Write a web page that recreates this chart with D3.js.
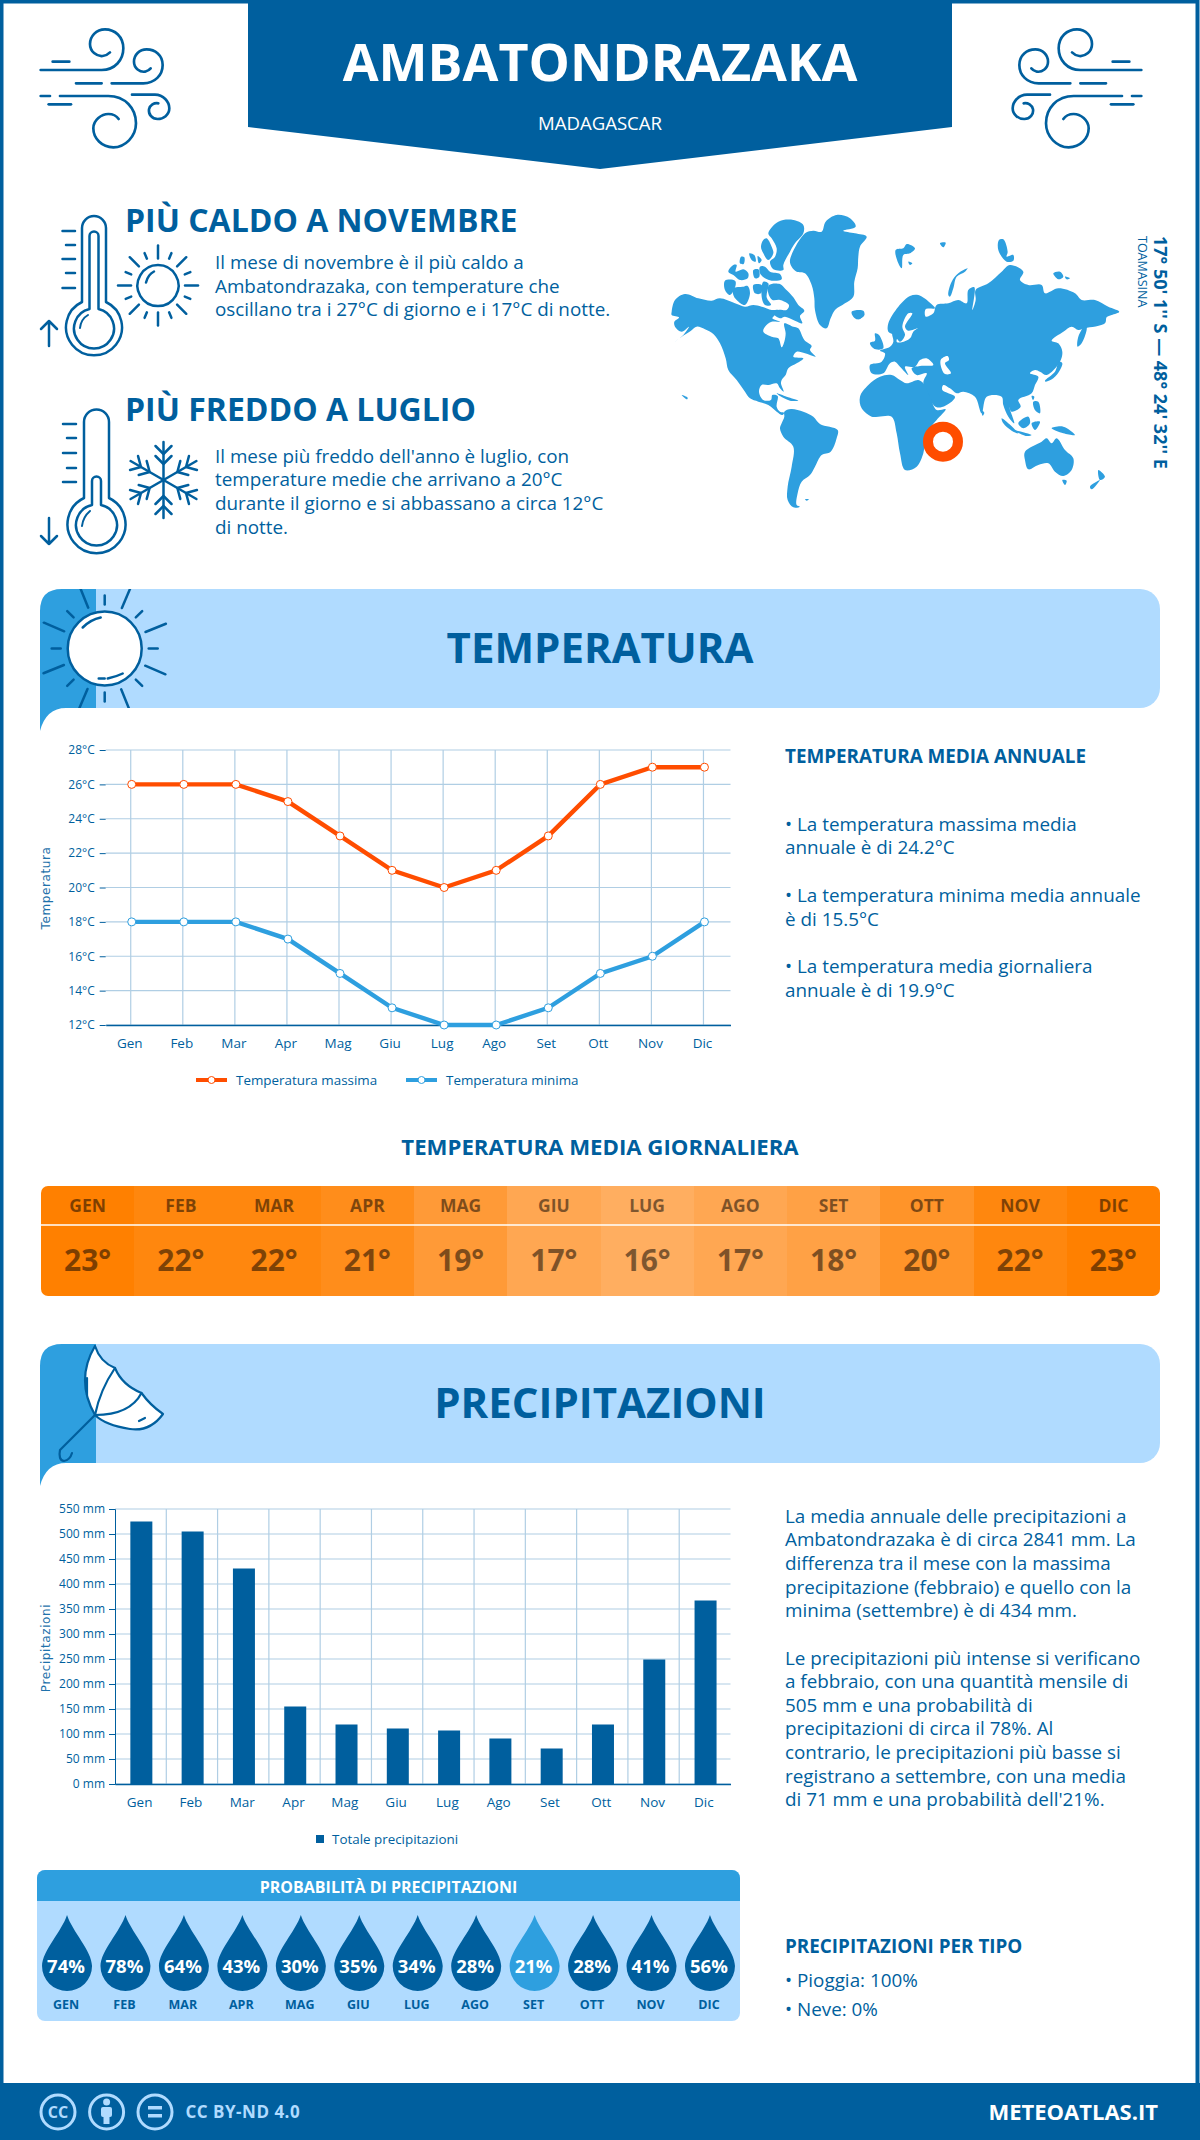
<!DOCTYPE html>
<html lang="it">
<head>
    <meta charset="UTF-8">
    <title>Ambatondrazaka</title>
    <script src="https://d3js.org/d3.v7.min.js"></script>
    <style>
        body { margin: 0; background: #fff; }
        svg { display: block; }
        text { font-family: "Open Sans", sans-serif; }
    </style>
</head>
<body>
<svg width="1200" height="2140"></svg>
<script>

    // dati
    var months = ["Gen", "Feb", "Mar", "Apr", "Mag", "Giu", "Lug", "Ago", "Set", "Ott", "Nov", "Dic"];
    var monthsUpper = ["GEN", "FEB", "MAR", "APR", "MAG", "GIU", "LUG", "AGO", "SET", "OTT", "NOV", "DIC"];
    var tempMax = [26, 26, 26, 25, 23, 21, 20, 21, 23, 26, 27, 27];
    var tempMin = [18, 18, 18, 17, 15, 13, 12, 12, 13, 15, 16, 18];
    var tempMean = [23, 22, 22, 21, 19, 17, 16, 17, 18, 20, 22, 23];
    var precip = [525, 505, 431, 155, 119, 111, 107, 91, 71, 119, 249, 367];
    var precipProb = [74, 78, 64, 43, 30, 35, 34, 28, 21, 28, 41, 56];

    var hotLines = ["Il mese di novembre è il più caldo a", "Ambatondrazaka, con temperature che", "oscillano tra i 27°C di giorno e i 17°C di notte."];
    var coldLines = ["Il mese più freddo dell'anno è luglio, con", "temperature medie che arrivano a 20°C", "durante il giorno e si abbassano a circa 12°C", "di notte."];
    var tempLines = ["• La temperatura massima media", "annuale è di 24.2°C", "• La temperatura minima media annuale", "è di 15.5°C", "• La temperatura media giornaliera", "annuale è di 19.9°C"];
    var rainLines = ["La media annuale delle precipitazioni a", "Ambatondrazaka è di circa 2841 mm. La", "differenza tra il mese con la massima", "precipitazione (febbraio) e quello con la", "minima (settembre) è di 434 mm.", "", "Le precipitazioni più intense si verificano", "a febbraio, con una quantità mensile di", "505 mm e una probabilità di", "precipitazioni di circa il 78%. Al", "contrario, le precipitazioni più basse si", "registrano a settembre, con una media", "di 71 mm e una probabilità dell'21%."];

    // sagome della mappa, ricalcate: americhe
    var landWest = [
        [[20,305],[30,270],[60,252],[100,265],[140,272],[165,265],[210,280],[240,290],[265,285],[290,290],[320,300],[340,300],[330,315],[322,325],[345,335],[320,335],[300,350],[295,365],[320,380],[340,385],[350,412],[358,395],[362,370],[358,340],[385,350],[400,355],[418,390],[440,408],[435,420],[452,440],[435,435],[420,430],[395,425],[385,440],[415,445],[395,460],[370,475],[362,495],[350,510],[348,520],[356,545],[345,535],[335,520],[310,525],[290,525],[282,545],[295,570],[318,570],[322,555],[338,558],[335,590],[345,605],[358,608],[352,615],[335,605],[310,585],[280,575],[255,565],[240,545],[215,510],[190,480],[182,445],[165,400],[145,372],[120,358],[95,350],[78,362],[50,380],[30,395],[55,375],[72,350],[50,365],[30,350],[28,335],[42,322],[20,315]],
        [[312,225],[345,222],[362,238],[385,262],[400,285],[418,302],[405,318],[412,340],[385,330],[360,320],[345,325],[325,310],[340,300],[365,300],[372,285],[345,270],[322,270],[310,250]],
        [[310,70],[340,35],[385,30],[415,45],[415,70],[390,100],[375,125],[355,165],[355,180],[325,178],[315,155],[330,140],[335,115],[320,85]],
        [[295,90],[305,85],[320,110],[325,130],[310,150],[295,130],[288,110]],
        [[285,170],[300,170],[315,185],[345,192],[350,208],[320,212],[300,205],[285,190]],
        [[265,180],[280,178],[283,200],[270,205]],
        [[190,185],[205,165],[215,165],[212,185],[235,178],[250,190],[248,205],[225,210],[205,195]],
        [[253,130],[268,135],[272,155],[260,150]],
        [[278,138],[290,150],[282,160]],
        [[228,140],[238,142],[236,162],[225,160]],
        [[205,235],[235,230],[248,228],[255,250],[240,285],[215,270],[205,255]],
        [[180,212],[210,212],[212,225],[195,255],[180,240]],
        [[265,225],[290,225],[288,250],[270,250]],
        [[295,215],[310,220],[305,262],[318,285],[300,285],[290,260]],
        [[375,150],[420,70],[445,62],[470,65],[482,35],[515,15],[555,25],[572,50],[535,62],[570,70],[605,80],[585,110],[580,140],[578,175],[568,215],[565,260],[540,280],[510,300],[497,325],[485,355],[465,345],[450,300],[448,265],[440,225],[420,190],[395,185],[380,170]],
        [[560,305],[595,302],[598,315],[578,328],[565,320]],
        [[335,550],[365,560],[400,572],[375,572],[345,558]],
        [[50,555],[68,563],[66,568]],
        [[358,605],[378,597],[415,605],[445,620],[465,642],[518,660],[515,685],[497,725],[470,735],[450,770],[435,795],[410,815],[398,850],[395,885],[405,890],[385,892],[368,870],[368,830],[380,770],[385,710],[355,680],[345,655],[350,640],[358,620]],
        [[420,868],[432,868],[425,872]]
    ];
    // sagome della mappa: Eurasia, Africa, Oceania
    var landEast = [
        [[122,90],[145,85],[155,72],[180,85],[165,100],[145,105],[140,145],[130,130]],
        [[160,125],[172,130],[165,135]],
        [[255,70],[272,68],[265,82]],
        [[280,225],[290,185],[310,160],[338,145],[330,155],[305,170],[295,205],[285,230]],
        [[432,60],[445,58],[458,95],[455,110],[475,105],[475,122],[455,125],[430,90]],
        [[595,160],[615,155],[625,170],[610,178]],
        [[630,170],[645,175],[635,178]],
        [[45,435],[80,425],[90,400],[75,392],[105,380],[115,365],[112,340],[128,345],[125,365],[140,367],[165,355],[175,335],[188,325],[160,332],[150,320],[172,280],[160,280],[142,320],[150,345],[135,365],[118,345],[100,335],[100,310],[130,260],[165,228],[190,225],[225,248],[240,265],[212,268],[212,290],[235,280],[245,255],[280,250],[310,240],[335,250],[340,210],[358,202],[352,270],[362,240],[362,210],[400,190],[440,155],[465,135],[505,155],[495,180],[520,195],[560,195],[570,220],[610,205],[660,220],[680,240],[720,240],[760,260],[793,275],[770,285],[755,292],[750,310],[690,325],[670,330],[650,320],[625,335],[590,362],[610,370],[622,395],[615,425],[575,465],[555,455],[540,450],[525,460],[550,470],[540,495],[530,520],[490,540],[497,560],[470,575],[462,560],[478,610],[460,590],[445,555],[440,530],[395,530],[380,580],[360,530],[325,515],[305,520],[285,505],[265,495],[262,510],[300,530],[290,545],[245,562],[205,490],[215,460],[185,465],[170,445],[195,438],[235,435],[215,415],[195,420],[180,440],[150,440],[160,465],[135,440],[120,425],[105,430],[85,460],[50,460]],
        [[15,530],[40,495],[75,470],[110,465],[135,480],[155,490],[190,480],[205,490],[225,530],[245,570],[272,568],[245,600],[225,625],[210,660],[205,700],[185,740],[150,750],[135,700],[125,640],[110,590],[70,590],[50,590],[20,565]],
        [[60,340],[72,345],[85,385],[62,388],[50,380],[45,368],[60,362]],
        [[0,285],[18,272],[28,285],[10,298]],
        [[380,572],[388,578],[383,587]],
        [[570,482],[600,455],[612,425],[622,430],[615,450],[595,475],[572,485]],
        [[668,380],[670,350],[695,310],[695,330],[680,370]],
        [[530,528],[538,530],[534,540]],
        [[535,545],[550,545],[555,580],[540,570]],
        [[440,595],[490,640],[470,632],[445,610]],
        [[475,630],[530,645],[515,648]],
        [[490,610],[520,590],[525,610],[505,625]],
        [[530,610],[555,605],[540,630]],
        [[590,625],[625,620],[660,645],[625,640]],
        [[510,695],[560,665],[575,655],[590,670],[605,655],[630,690],[655,715],[650,750],[625,768],[600,755],[580,730],[550,735],[520,748],[510,720]],
        [[622,780],[635,782],[630,795]],
        [[730,750],[750,770],[735,780]],
        [[735,780],[710,808],[705,800]]
    ];
    var seasEast = [
        [[258,418],[278,408],[282,420],[270,430],[288,460],[270,462],[258,440]]
    ];
    var marker = [264, 665];

    var dark = "#005f9e", mid = "#2e9fdf", light = "#b0dbff", orange = "#ff4d00", gridColor = "#b0cee4";

    var svg = d3.select("svg");

    function txt(x, y, s, size, weight, anchor, fill) {
        return svg.append("text")
            .attr("x", x).attr("y", y)
            .attr("font-size", size)
            .attr("font-weight", weight || 400)
            .attr("text-anchor", anchor || "start")
            .attr("fill", fill || dark)
            .text(s);
    }

    function icon(d, g, w, fill) {
        return (g || svg).append("path").attr("d", d)
            .attr("fill", fill || "none")
            .attr("stroke", dark)
            .attr("stroke-width", w || 2.5)
            .attr("stroke-linecap", "round")
            .attr("stroke-linejoin", "round");
    }

    // cornice e testata
    svg.append("rect").attr("x", 1.5).attr("y", 1.5).attr("width", 1196).attr("height", 2120)
        .attr("fill", "#fff").attr("stroke", dark).attr("stroke-width", 4);
    svg.append("path").attr("d", "M248 0H952V127L600 169L248 127Z").attr("fill", dark);
    txt(600, 81, "AMBATONDRAZAKA", 52, 700, "middle", "#fff");
    txt(600, 130, "MADAGASCAR", 18.6, 400, "middle", "#fff");

    var windPaths = [
        "M32 150H215C255 150 280 120 280 85C280 50 255 28 225 28C198 28 180 50 180 72C180 95 200 110 218 108C228 107 235 102 240 97",
        "M68 125H118",
        "M138 190H215M245 190H340C375 190 398 165 398 135C398 105 375 88 350 88C328 88 312 105 312 125C312 145 330 157 345 155C352 153 358 150 362 145",
        "M32 228H60M90 228H235C285 228 318 265 318 310C318 350 285 382 250 382C215 382 190 355 190 325C190 300 215 282 235 282C250 282 260 288 266 297",
        "M56 253H123",
        "M306 224H375C400 224 418 245 418 265C418 285 400 297 383 297C365 297 355 282 357 268C360 255 372 248 385 250"
    ];
    var windL = svg.append("g").attr("transform", "translate(30,20) scale(0.3333)");
    var windR = svg.append("g").attr("transform", "translate(1152,20) scale(-0.3333,0.3333)");
    windPaths.forEach(function(d) {
        icon(d, windL, 8);
        icon(d, windR, 8);
    });

    // blocco piu caldo
    txt(125, 232, "PIÙ CALDO A NOVEMBRE", 32, 700);
    hotLines.forEach(function(s, i) { txt(215, 269 + i * 23.6, s, 18.85); });
    icon("M82 302V228a12 12 0 0 1 24 0V302A28 28 0 1 1 82 302Z");
    icon("M89.5 309V236a4.5 4.5 0 0 1 9 0V309A20 20 0 1 1 89.5 309Z");
    icon("M80 328Q81 319 88 315", null, 2);
    [231, 245, 259, 273, 288].forEach(function(y, i) {
        icon("M" + (i % 2 ? 66 : 62.5) + " " + y + "H75");
    });
    icon("M49 346V321M41 329L49 321L57 329");

    var sun = svg.append("g").attr("transform", "translate(158,285.5)");
    icon("M0 -20.5A20.5 20.5 0 1 1 -0.01 -20.5Z", sun);
    icon("M-12 -3Q-10 -11 -4 -14", sun);
    d3.range(16).forEach(function(i) {
        var long = i % 2 === 0;
        var r1 = long ? 27 : 29, r2 = long ? 40 : 35;
        icon("M0 " + (-r1) + "V" + (-r2), sun).attr("transform", "rotate(" + (i * 22.5) + ")");
    });

    // blocco piu freddo
    txt(125, 421, "PIÙ FREDDO A LUGLIO", 32, 700);
    coldLines.forEach(function(s, i) { txt(215, 462.5 + i * 23.8, s, 18.85); });
    icon("M84 498V422a12.5 12.5 0 0 1 25 0V498A29 29 0 1 1 84 498Z");
    icon("M92 505V481a4.5 4.5 0 0 1 9 0V505A20.5 20.5 0 1 1 92 505Z");
    icon("M82 526Q83 517 90 511", null, 2);
    [424, 438, 453, 468, 482].forEach(function(y, i) {
        icon("M" + (i % 2 ? 67 : 63) + " " + y + "H76");
    });
    icon("M49 518V544M41 536L49 544L57 536");

    var flake = svg.append("g").attr("transform", "translate(163.5,480)");
    d3.range(6).forEach(function(i) {
        var a = flake.append("g").attr("transform", "rotate(" + (i * 60) + ")");
        icon("M0 0V-38", a);
        icon("M-8 -34L0 -26L8 -34M-8 -24L0 -16L8 -24", a);
    });

    svg.append("text").attr("transform", "translate(1154,236) rotate(90)")
        .attr("font-size", 18).attr("font-weight", 700).attr("fill", dark)
        .text("17° 50' 1'' S — 48° 24' 32'' E");
    svg.append("text").attr("transform", "translate(1138,236) rotate(90)")
        .attr("font-size", 12.5).attr("fill", dark).text("TOAMASINA");

    // fasce di sezione
    function band(y, title) {
        var h = 119;
        svg.append("path")
            .attr("d", "M96 " + y + "H1140a20 20 0 0 1 20 20V" + (y + h - 20) + "a20 20 0 0 1 -20 20H96Z")
            .attr("fill", light);
        svg.append("path")
            .attr("d", "M40 " + (y + h + 23) + "V" + (y + 22) + "Q40 " + y + " 62 " + y + "H96V" + (y + h) + "H66Q46 " + (y + h) + " 40 " + (y + h + 23) + "Z")
            .attr("fill", mid);
        txt(600, y + 74, title, 42, 700, "middle");
    }
    band(589, "TEMPERATURA");
    band(1344, "PRECIPITAZIONI");

    // sole della fascia temperatura
    var clipSun = svg.append("clipPath").attr("id", "clipSun");
    clipSun.append("rect").attr("x", 40).attr("y", 589).attr("width", 160).attr("height", 119);
    var bigSun = svg.append("g").attr("clip-path", "url(#clipSun)")
        .append("g").attr("transform", "translate(104.7,648.5)");
    d3.range(8).forEach(function(i) {
        icon("M0 -44V-66", bigSun).attr("transform", "rotate(" + (-22 + i * 45) + ")");
        icon("M0 -44V-53", bigSun).attr("transform", "rotate(" + (i * 45) + ")");
    });
    bigSun.append("circle").attr("r", 37).attr("fill", "#fff").attr("stroke", dark).attr("stroke-width", 2.5);
    icon("M-22 -21Q-14 -29 -4 -31", bigSun);
    icon("M-6 30L0 30M3 30Q12 28 18 25", bigSun);

    // ombrello della fascia precipitazioni
    icon("M95 1415L60 1450Q58 1460 64 1461Q70 1460 72 1453", null, 2.2);
    icon("M95 1346Q100 1362 115 1368Q122 1385 141.5 1393Q150 1405 163 1414Q150 1432 130 1429Q105 1425 95 1415Q75 1380 95 1346Z", null, 2.2, "#fff");
    icon("M115 1368Q100 1390 95 1415M141.5 1393Q130 1415 95 1415", null, 2.2);
    icon("M87 1378V1395M139 1421L145 1418", null, 2.2);

    // grafico temperature
    var tx = d3.scaleBand().domain(months).range([105.7, 730.5]);
    var ty = d3.scaleLinear().domain([12, 28]).range([1025, 750]);
    var tMid = function(m) { return tx(m) + tx.bandwidth() / 2; };

    var tGrid = svg.append("g").attr("stroke", gridColor).attr("stroke-width", 1.2);
    tGrid.selectAll("line.h").data(ty.ticks(8)).enter().append("line")
        .attr("x1", 105.7).attr("x2", 730.5)
        .attr("y1", function(d) { return ty(d); }).attr("y2", function(d) { return ty(d); });
    tGrid.selectAll("line.v").data(months).enter().append("line")
        .attr("x1", function(d) { return tMid(d) - 1; }).attr("x2", function(d) { return tMid(d) - 1; })
        .attr("y1", 750).attr("y2", 1025);

    function styleAxis(g, size) {
        g.selectAll("text").attr("fill", dark).attr("font-size", size).attr("font-family", '"Open Sans", sans-serif');
        g.selectAll("line").attr("stroke", dark);
        g.selectAll(".domain").attr("stroke", dark);
    }

    var tLeft = svg.append("g").attr("transform", "translate(105.7,0)")
        .call(d3.axisLeft(ty).ticks(8).tickSize(6).tickPadding(5).tickFormat(function(d) { return d + "°C"; }));
    tLeft.select(".domain").remove();
    styleAxis(tLeft, 12);
    var tBottom = svg.append("g").attr("transform", "translate(0,1025)")
        .call(d3.axisBottom(tx).tickSize(0).tickPadding(13));
    styleAxis(tBottom, 13.5);
    tBottom.selectAll("text").attr("dx", -2);
    tBottom.select(".domain").attr("stroke-width", 1.5);

    svg.append("text").attr("transform", "translate(50,888) rotate(-90)")
        .attr("text-anchor", "middle").attr("font-size", 12).attr("letter-spacing", 0.6)
        .attr("fill", "#1f72ab").style("font-family", '"DejaVu Sans"').text("Temperatura");

    var tLine = d3.line()
        .x(function(d, i) { return tMid(months[i]); })
        .y(function(d) { return ty(d); });

    function tempSeries(values, color) {
        svg.append("path").datum(values).attr("d", tLine)
            .attr("fill", "none").attr("stroke", color).attr("stroke-width", 4.4);
        svg.append("g").selectAll("circle").data(values).enter().append("circle")
            .attr("cx", function(d, i) { return tMid(months[i]); })
            .attr("cy", function(d) { return ty(d); })
            .attr("r", 4).attr("fill", "#fff").attr("stroke", color).attr("stroke-width", 1);
    }
    tempSeries(tempMax, orange);
    tempSeries(tempMin, mid);

    // legenda temperature
    [[196, "Temperatura massima", orange], [406, "Temperatura minima", mid]].forEach(function(d) {
        svg.append("line").attr("x1", d[0]).attr("x2", d[0] + 31).attr("y1", 1080).attr("y2", 1080)
            .attr("stroke", d[2]).attr("stroke-width", 4);
        svg.append("circle").attr("cx", d[0] + 15.5).attr("cy", 1080).attr("r", 3.5)
            .attr("fill", "#fff").attr("stroke", d[2]);
        txt(d[0] + 40, 1084.5, d[1], 13.4);
    });

    // testo a destra
    txt(785, 763, "TEMPERATURA MEDIA ANNUALE", 18.85, 700);
    var tempY = [831, 854, 902, 926, 973, 997];
    tempLines.forEach(function(s, i) { txt(785, tempY[i], s, 18.85); });

    // temperatura media giornaliera
    txt(600, 1155, "TEMPERATURA MEDIA GIORNALIERA", 22.2, 700, "middle");

    var dx = d3.scaleBand().domain(monthsUpper).range([41, 1160]);
    var heat = d3.scaleLinear().domain([16, 23]).range(["#ffae60", "#ff8000"]);
    var clipDay = svg.append("clipPath").attr("id", "clipDay");
    clipDay.append("rect").attr("x", 41).attr("y", 1186).attr("width", 1119).attr("height", 110).attr("rx", 7);
    var dayG = svg.append("g").attr("clip-path", "url(#clipDay)");
    dayG.selectAll("rect").data(tempMean).enter().append("rect")
        .attr("x", function(d, i) { return dx(monthsUpper[i]); })
        .attr("y", 1186).attr("width", dx.bandwidth() + 0.5).attr("height", 110)
        .attr("shape-rendering", "crispEdges")
        .attr("fill", function(d) { return heat(d); });
    dayG.append("line").attr("x1", 41).attr("x2", 1160).attr("y1", 1225).attr("y2", 1225)
        .attr("stroke", "#fff").attr("stroke-width", 1.5);
    tempMean.forEach(function(d, i) {
        var cx = dx(monthsUpper[i]) + dx.bandwidth() / 2;
        txt(cx, 1212, monthsUpper[i], 17.5, 700, "middle", "#000").attr("opacity", 0.5);
        txt(cx, 1271, d + "°", 30, 700, "middle", "#000").attr("opacity", 0.5);
    });

    // grafico precipitazioni
    var px = d3.scaleBand().domain(months).range([115, 730.5]);
    var py = d3.scaleLinear().domain([0, 550]).range([1784, 1509]);

    var pGrid = svg.append("g").attr("stroke", gridColor).attr("stroke-width", 1.2);
    pGrid.selectAll("line.h").data(py.ticks(11)).enter().append("line")
        .attr("x1", 115).attr("x2", 730.5)
        .attr("y1", function(d) { return py(d); }).attr("y2", function(d) { return py(d); });
    pGrid.selectAll("line.v").data(months.slice(1)).enter().append("line")
        .attr("x1", function(d) { return px(d); }).attr("x2", function(d) { return px(d); })
        .attr("y1", 1509).attr("y2", 1784);

    svg.append("g").selectAll("rect").data(precip).enter().append("rect")
        .attr("x", function(d, i) { return px(months[i]) + px.bandwidth() / 2 - 10.3; })
        .attr("y", function(d) { return py(d); })
        .attr("width", 22)
        .attr("height", function(d) { return py(0) - py(d); })
        .attr("fill", dark);

    var pLeft = svg.append("g").attr("transform", "translate(115,0)")
        .call(d3.axisLeft(py).ticks(11).tickSize(6).tickPadding(4).tickFormat(function(d) { return d + " mm"; }));
    pLeft.select(".domain").attr("stroke-width", 1);
    styleAxis(pLeft, 12);
    var pBottom = svg.append("g").attr("transform", "translate(0,1784)")
        .call(d3.axisBottom(px).tickSize(0).tickPadding(13));
    styleAxis(pBottom, 13.5);
    pBottom.selectAll("text").attr("dx", -1);
    pBottom.select(".domain").attr("stroke-width", 1.5);

    svg.append("text").attr("transform", "translate(50,1648) rotate(-90)")
        .attr("text-anchor", "middle").attr("font-size", 12).attr("letter-spacing", 0.6)
        .attr("fill", "#1f72ab").style("font-family", '"DejaVu Sans"').text("Precipitazioni");

    svg.append("rect").attr("x", 316).attr("y", 1835).attr("width", 8).attr("height", 8).attr("fill", dark);
    txt(332, 1843.5, "Totale precipitazioni", 13.4);

    rainLines.forEach(function(s, i) {
        txt(785, 1522.7 + i * 23.6 + (i > 5 ? 0.3 : 0), s, 18.85);
    });

    txt(785, 1953, "PRECIPITAZIONI PER TIPO", 18.85, 700);
    txt(785, 1987, "• Pioggia: 100%", 18.85);
    txt(785, 2016, "• Neve: 0%", 18.85);

    // probabilita di precipitazioni
    svg.append("rect").attr("x", 37).attr("y", 1870).attr("width", 703).attr("height", 151).attr("rx", 8).attr("fill", light);
    svg.append("path").attr("d", "M37 1901V1878a8 8 0 0 1 8 -8H732a8 8 0 0 1 8 8V1901Z").attr("fill", mid);
    txt(388.5, 1893, "PROBABILITÀ DI PRECIPITAZIONI", 16, 700, "middle", "#fff");

    var rx = d3.scaleBand().domain(monthsUpper).range([37.8, 739.2]);
    var drop = "M0 -51C5 -35 25 -15 25 0A25 25 0 1 1 -25 0C-25 -15 -5 -35 0 -51Z";
    precipProb.forEach(function(d, i) {
        var cx = rx(monthsUpper[i]) + rx.bandwidth() / 2;
        svg.append("path").attr("d", drop)
            .attr("transform", "translate(" + cx + ",1966)")
            .attr("fill", d === d3.min(precipProb) ? mid : dark);
        txt(cx - 1, 1973, d + "%", 18.5, 700, "middle", "#fff");
        txt(cx - 1, 2009, monthsUpper[i], 12.5, 700, "middle");
    });

    // pie di pagina
    svg.append("rect").attr("x", 0).attr("y", 2083).attr("width", 1200).attr("height", 57).attr("fill", dark);
    [58, 106.6, 155].forEach(function(cx) {
        svg.append("circle").attr("cx", cx).attr("cy", 2112).attr("r", 17)
            .attr("fill", "none").attr("stroke", light).attr("stroke-width", 3);
    });
    txt(58, 2118, "CC", 16, 700, "middle", light);
    svg.append("circle").attr("cx", 106.6).attr("cy", 2102).attr("r", 3.5).attr("fill", light);
    svg.append("rect").attr("x", 101).attr("y", 2107).attr("width", 11).attr("height", 10).attr("rx", 2).attr("fill", light);
    svg.append("rect").attr("x", 103.5).attr("y", 2115).attr("width", 6).attr("height", 9).attr("fill", light);
    svg.append("rect").attr("x", 148).attr("y", 2106).attr("width", 14).attr("height", 3.5).attr("fill", light);
    svg.append("rect").attr("x", 148).attr("y", 2114).attr("width", 14).attr("height", 3.5).attr("fill", light);
    txt(185.5, 2118, "CC BY-ND 4.0", 17, 700, "start", light).attr("letter-spacing", 0.5);
    txt(1158, 2120, "METEOATLAS.IT", 22, 700, "end", "#fff");

    // mappa, disegnata per ultima
    var ring = d3.line().curve(d3.curveCatmullRomClosed.alpha(0.5));
    var mapWest = svg.append("g").attr("transform", "translate(665,210) scale(0.3333)");
    var mapEast = svg.append("g").attr("transform", "translate(855,220) scale(0.3333)");
    mapWest.selectAll("path").data(landWest).enter().append("path")
        .attr("d", ring).attr("fill", mid);
    mapEast.selectAll("path.land").data(landEast).enter().append("path")
        .attr("class", "land").attr("d", ring).attr("fill", mid);
    mapEast.selectAll("path.sea").data(seasEast).enter().append("path")
        .attr("class", "sea").attr("d", ring).attr("fill", "#fff");
    mapEast.append("circle")
        .attr("cx", marker[0]).attr("cy", marker[1])
        .attr("r", 45).attr("fill", "#fff").attr("stroke", orange).attr("stroke-width", 30);

</script>
</body>
</html>
